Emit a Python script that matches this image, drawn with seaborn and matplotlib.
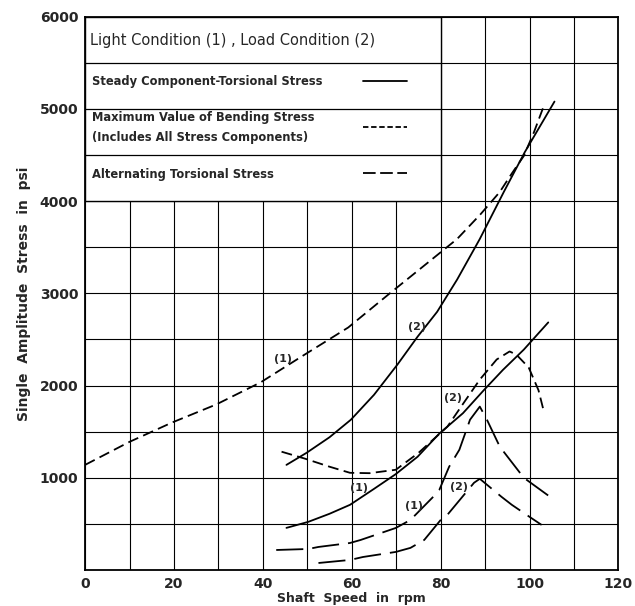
import matplotlib
matplotlib.use("Agg")
from matplotlib import pyplot as plt
from matplotlib.patches import Rectangle
import seaborn as sns
import pandas as pd

# readings: shaft speed (rpm) vs single amplitude stress (psi)
# (1) = light condition, (2) = load condition
bend_light_rpm = [0, 10, 19.6, 29.5, 39.5, 48.7, 59.2, 68.8, 76, 83.7, 89, 93.3, 96, 98.7, 101, 103.1]
bend_light_psi = [1140, 1390, 1600, 1795, 2035, 2315, 2630, 3010, 3290, 3590, 3860, 4100, 4300, 4490, 4750, 5020]

steady_load_rpm = [45.3, 49.8, 55, 59.8, 65, 70.3, 74.8, 79.2, 83.7, 88.8, 94.2, 98.9, 105.6]
steady_load_psi = [1140, 1270, 1440, 1630, 1900, 2230, 2530, 2800, 3150, 3590, 4100, 4530, 5080]

steady_light_rpm = [45.3, 50.2, 55, 59.6, 65, 69.9, 74.8, 79.7, 85, 89.7, 94, 98.7, 104.2]
steady_light_psi = [457, 522, 610, 707, 880, 1040, 1228, 1480, 1700, 1950, 2170, 2390, 2685]

bend_load_rpm = [44.2, 49.5, 55, 59.6, 64, 69.9, 75, 81.5, 85, 88.8, 92.6, 95.5, 97, 99.8, 102, 103.1]
bend_load_psi = [1283, 1207, 1120, 1054, 1050, 1087, 1270, 1554, 1800, 2065, 2283, 2370, 2337, 2196, 1950, 1739]

alt_light_rpm = [43, 50.2, 52.5, 59.6, 62, 69.9, 73.2, 78.1, 79.7, 81.9, 84.2, 86.6, 88.8, 90.4, 93.3, 98.7, 104.9]
alt_light_psi = [217, 228, 250, 293, 326, 456, 543, 783, 870, 1120, 1304, 1630, 1772, 1630, 1337, 1000, 783]

alt_load_rpm = [52.5, 59.6, 62.5, 69.9, 73.2, 76.3, 80, 81.5, 87.5, 88.8, 93.7, 96, 100, 102.7]
alt_load_psi = [76, 109, 141, 196, 240, 326, 543, 598, 946, 989, 793, 707, 576, 489]

curves = {
    "bend (1)": (bend_light_rpm, bend_light_psi),
    "steady (2)": (steady_load_rpm, steady_load_psi),
    "steady (1)": (steady_light_rpm, steady_light_psi),
    "bend (2)": (bend_load_rpm, bend_load_psi),
    "alt (1)": (alt_light_rpm, alt_light_psi),
    "alt (2)": (alt_load_rpm, alt_load_psi),
}

# curve tags written beside the lines (rpm, psi)
tags = [("(1)", 44.6, 2283), ("(2)", 74.6, 2630), ("(1)", 61.6, 890),
        ("(2)", 82.8, 1870), ("(1)", 74.0, 690), ("(2)", 84.2, 905)]

rows = []
for name, (xs, ys) in curves.items():
    for x, y in zip(xs, ys):
        rows.append([name, x, y])
df = pd.DataFrame(rows, columns=["Curve", "Speed", "Stress"])

SOLID = ""
SHORT = (6, 3)
LONG = (15, 5)
dash_map = {"bend (1)": SHORT, "bend (2)": SHORT, "steady (1)": SOLID,
            "steady (2)": SOLID, "alt (1)": LONG, "alt (2)": LONG}

sns.set_style("white")
plt.rcParams["font.family"] = ["DejaVu Sans"]

fig = plt.figure(figsize=(6.35, 6.06), dpi=100)
ax = fig.add_axes([0.134, 0.0594, 0.84, 0.913])

sns.lineplot(data=df, x="Speed", y="Stress", hue="Curve", style="Curve",
             palette={k: "black" for k in curves}, dashes=dash_map,
             estimator=None, legend=False, linewidth=1.3, ax=ax, zorder=3)

ax.set_xlim(0, 120)
ax.set_ylim(0, 6000)
ax.set_xticks(range(0, 121, 20))
ax.set_xticks(range(0, 121, 10), minor=True)
ax.set_yticks(range(1000, 6001, 1000))
ax.set_yticks(range(0, 6001, 500), minor=True)
ax.grid(which="both", color="black", linewidth=0.8)
ax.tick_params(axis="both", which="major", labelsize=10, length=3, width=1,
               direction="out", pad=2)
ax.tick_params(axis="both", which="minor", length=0)
for lab in ax.get_xticklabels() + ax.get_yticklabels():
    lab.set_fontweight("bold")
for sp in ax.spines.values():
    sp.set_color("black")
    sp.set_linewidth(1.3)

ax.set_xlabel("Shaft  Speed  in  rpm", fontsize=9, fontweight="bold", labelpad=1)
ax.set_ylabel("Single  Amplitude  Stress  in  psi", fontsize=10, fontweight="bold", labelpad=6)

# table-style key in the upper left
ax.add_patch(Rectangle((0, 4000), 80, 2000, facecolor="white", edgecolor="black",
                       linewidth=1.0, zorder=2))
ax.hlines([4500, 5000, 5500], 0, 80, color="black", linewidth=0.9, zorder=2.5)
ax.text(1.2, 5745, "Light Condition (1) , Load Condition (2)", fontsize=10.5,
        va="center", zorder=4)
ax.text(1.5, 5300, "Steady Component-Torsional Stress", fontsize=8.3,
        fontweight="bold", va="center", zorder=4)
ax.text(1.5, 4905, "Maximum Value of Bending Stress", fontsize=8.3,
        fontweight="bold", va="center", zorder=4)
ax.text(1.5, 4690, "(Includes All Stress Components)", fontsize=8.3,
        fontweight="bold", va="center", zorder=4)
ax.text(1.5, 4290, "Alternating Torsional Stress", fontsize=8.3,
        fontweight="bold", va="center", zorder=4)
ax.plot([62.5, 72.5], [5300, 5300], color="black", linewidth=1.3, zorder=4)
ax.plot([62.5, 72.5], [4800, 4800], color="black", linewidth=1.3, dashes=(3, 1.5), zorder=4)
ax.plot([62.5, 72.5], [4310, 4310], color="black", linewidth=1.3, dashes=(7, 2.5), zorder=4)

for t, x, y in tags:
    ax.text(x, y, t, fontsize=8, fontweight="bold", ha="center", va="center", zorder=4)

fig.savefig("out.png", dpi=100)
